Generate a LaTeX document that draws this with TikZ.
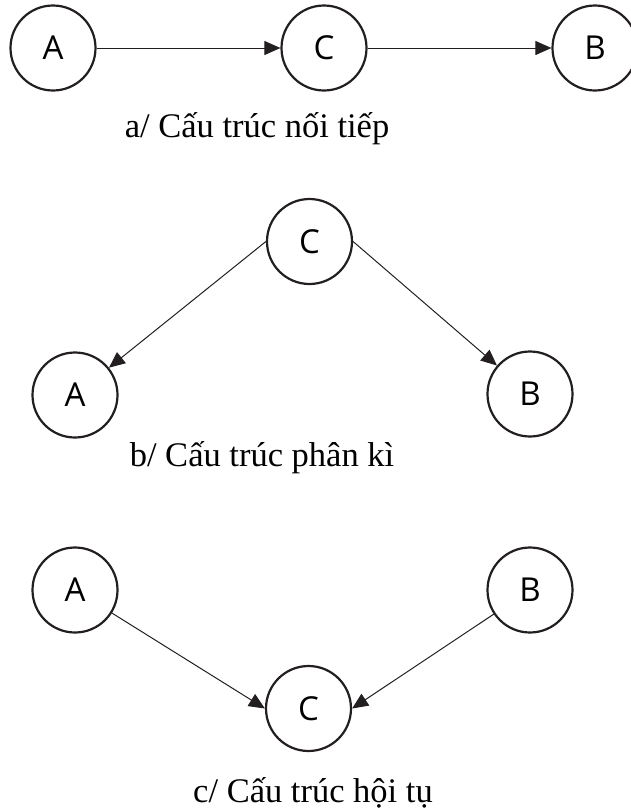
\documentclass[tikz,border=0pt]{standalone}
\usepackage{fontspec}
\setmainfont{Liberation Serif}
\newfontfamily\nodefont{Open Sans}
\usetikzlibrary{arrows.meta}
\definecolor{ink}{RGB}{35,31,32}
\tikzset{
  var/.style={circle, draw=ink, line width=2.2pt, minimum size=85pt, inner sep=0pt,
              font=\nodefont\fontsize{33}{33}\selectfont, text=black},
  edge/.style={draw=ink, line width=1pt, -{Triangle[length=16pt, width=14pt]}},
  caption/.style={anchor=base, inner sep=0pt, font=\fontsize{34.5}{40}\selectfont, text=black}
}
\begin{document}
\begin{tikzpicture}[x=1pt, y=-1pt]
  \useasboundingbox (0,0) rectangle (630,812);

  % a/ serial structure
  \node[var] (a1) at (53,48) {A};
  \node[var] (c1) at (324,48) {C};
  \node[var] (b1) at (595,48) {B};
  \draw[edge] (a1) -- (c1);
  \draw[edge] (c1) -- (b1);
  \node[caption] (capa) at (257,137) {a/ Cấu trúc nối tiếp};

  % b/ diverging structure
  \node[var] (c2) at (309.5,241.5) {C};
  \node[var] (a2) at (75,395) {A};
  \node[var] (b2) at (530,394) {B};
  \draw[edge] (c2.west) -- (a2);
  \draw[edge] (c2.east) -- (b2);
  \node[caption] (capb) at (262,466) {b/ Cấu trúc phân kì};

  % c/ converging structure
  \node[var] (a3) at (75,590) {A};
  \node[var] (b3) at (530,590) {B};
  \node[var] (c3) at (308.5,708.5) {C};
  \draw[edge] (a3) -- (c3.west);
  \draw[edge] (b3) -- (c3.east);
  \node[caption] (capc) at (313,802) {c/ Cấu trúc hội tụ};
\end{tikzpicture}
\end{document}
